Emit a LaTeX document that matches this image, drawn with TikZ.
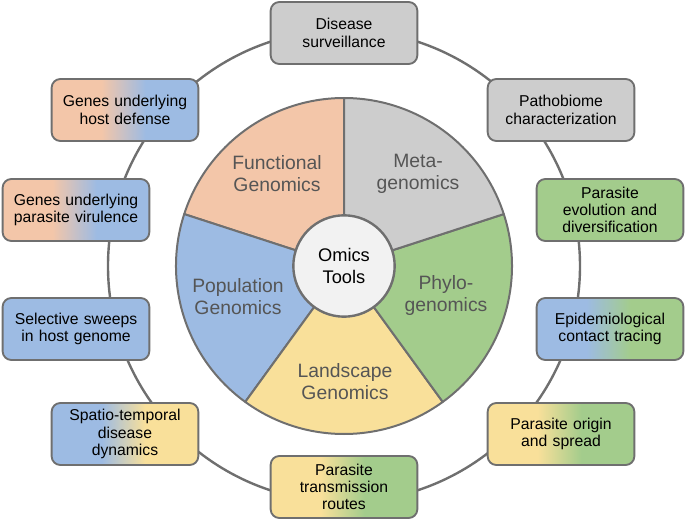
\documentclass[tikz,border=0pt]{standalone}
\usepackage{fontspec}
\setmainfont{Liberation Sans}
\usepackage{tikz}
\usetikzlibrary{
    positioning,
    shapes,
}
\definecolor{FGorange}{HTML}{F3C6A9}
\definecolor{FGblue}{HTML}{9DBBE3}
\definecolor{FGyellow}{HTML}{F9E09A}
\definecolor{FGgreen}{HTML}{A3CC8C}
\definecolor{FGgray}{HTML}{CDCDCD}
\definecolor{HubBG}{HTML}{F2F2F2}
\definecolor{LineGray}{HTML}{6F6F6F}
\definecolor{LabelGray}{HTML}{555555}
\pgfdeclarehorizontalshading{orangeblue}{100bp}{color(0bp)=(FGorange); color(42bp)=(FGorange); color(57bp)=(FGblue); color(100bp)=(FGblue)}
\pgfdeclarehorizontalshading{blueyellow}{100bp}{color(0bp)=(FGblue); color(42bp)=(FGblue); color(57bp)=(FGyellow); color(100bp)=(FGyellow)}
\pgfdeclarehorizontalshading{yellowgreen}{100bp}{color(0bp)=(FGyellow); color(42bp)=(FGyellow); color(57bp)=(FGgreen); color(100bp)=(FGgreen)}
\pgfdeclarehorizontalshading{bluegreen}{100bp}{color(0bp)=(FGblue); color(42bp)=(FGblue); color(57bp)=(FGgreen); color(100bp)=(FGgreen)}
\tikzstyle{ring}=[draw=LineGray,line width=1.8pt]
\tikzstyle{wedge}=[draw=LineGray,line width=1.5pt,line join=round]
\tikzstyle{hub}=[draw=LineGray,fill=HubBG,circle,line width=1.8pt,minimum size=76pt,align=center,font=\fontsize{13.7}{16.5}\selectfont]
\tikzstyle{wedgelabel}=[align=center,text=LabelGray,font=\fontsize{14.5}{16.5}\selectfont]
\tikzstyle{app}=[draw=LineGray,rectangle,line width=1.4pt,rounded corners=6.5pt,minimum width=110pt,minimum height=46.5pt,text width=104pt,align=center,inner sep=0pt,font=\fontsize{11.8}{13}\selectfont]
\newcommand{\Wedge}[3]{%
    \filldraw[wedge,fill=#3] (0,0) -- (#1:168) arc[start angle=#1,end angle=#2,radius=168] -- cycle;
}
\newcommand{\App}[3][]{%
    \node[app,#1] (#2) {#3};
}

\begin{document}
\begin{tikzpicture}[x=0.75pt,y=0.75pt]
    \useasboundingbox (-344,-255) rectangle (341,266);
    % ring of applications
    \draw[ring] (0,0) circle[radius=236];

    % Pie of tools
    \Wedge{90}{162}{FGorange}
    \Wedge{162}{234}{FGblue}
    \Wedge{234}{306}{FGyellow}
    \Wedge{306}{378}{FGgreen}
    \Wedge{18}{90}{FGgray}
    \node[hub] (omics) at (0,0) {Omics\\Tools};

    \node[wedgelabel] (functional) at (-67,92) {Functional\\Genomics};
    \node[wedgelabel] (meta) at (74,92) {Meta-\\genomics};
    \node[wedgelabel] (population) at (-106,-31) {Population\\Genomics};
    \node[wedgelabel] (phylo) at (102,-30) {Phylo-\\genomics};
    \node[wedgelabel] (landscape) at (1,-116) {Landscape\\Genomics};

    % Applications
    \App[at={(0,233)},fill=FGgray]{surveillance}{Disease\\surveillance};
    \App[at={(217,156)},fill=FGgray]{pathobiome}{Pathobiome\\characterization};
    \App[at={(266,56)},fill=FGgreen]{evolution}{Parasite\\evolution and\\diversification};
    \App[at={(266,-63)},shade,shading=bluegreen]{tracing}{Epidemiological\\contact tracing};
    \App[at={(217,-168)},shade,shading=yellowgreen]{origin}{Parasite origin\\and spread};
    \App[at={(0,-221)},shade,shading=yellowgreen]{transmission}{Parasite\\transmission\\routes};
    \App[at={(-219,-168)},shade,shading=blueyellow]{spatiotemporal}{Spatio-temporal\\disease\\dynamics};
    \App[at={(-268,-63)},fill=FGblue]{sweeps}{Selective sweeps\\in host genome};
    \App[at={(-268,56)},shade,shading=orangeblue]{virulence}{Genes underlying\\parasite virulence};
    \App[at={(-219,156)},shade,shading=orangeblue]{defense}{Genes underlying\\host defense};
\end{tikzpicture}
\end{document}
